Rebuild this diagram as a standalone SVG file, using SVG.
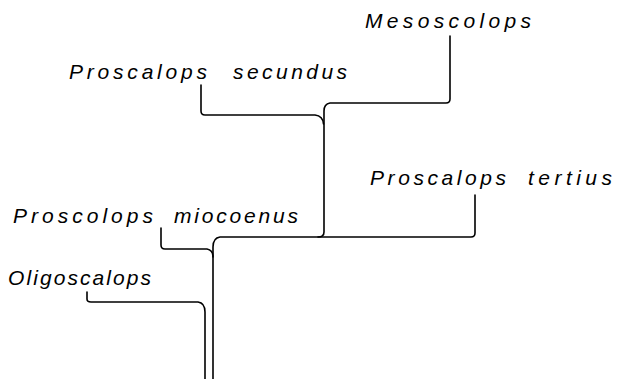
<svg xmlns="http://www.w3.org/2000/svg" width="618" height="379" viewBox="0 0 618 379">
<style>
.lbl{font-family:"Liberation Sans",Arial,sans-serif;font-style:italic;font-size:21px;fill:#000}
.ln{fill:none;stroke:#000;stroke-width:1.6;stroke-linecap:round;stroke-linejoin:round}
</style>
<rect width="618" height="379" fill="#fff"/>
<g id="connectors">
<path class="ln" d="M450,36 V99 Q450,103 446,103 H330 Q324,104 324,111 V232 Q324,237 318,237"/>
<path class="ln" d="M201,85 V111 Q201,115 205,115 H315 Q323,116 323.5,124"/>
<path class="ln" d="M475,195 V233 Q475,237 471,237 H220 Q213,238 213,247 V379"/>
<path class="ln" d="M161,228 V245 Q161,249 165,249 H207 Q213,250 213,257"/>
<path class="ln" d="M87,292 V299 Q87,302 91,302 H198 Q205,303 205,312 V379"/>
</g>
<g id="mesoscolops"><text class="lbl" x="365" y="28" textLength="166" lengthAdjust="spacing">Mesoscolops</text></g>
<g id="proscalops-secundus"><text class="lbl" y="79"><tspan x="69" textLength="138" lengthAdjust="spacing">Proscalops</tspan><tspan x="233" textLength="114" lengthAdjust="spacing">secundus</tspan></text></g>
<g id="proscalops-tertius"><text class="lbl" y="185"><tspan x="370" textLength="136" lengthAdjust="spacing">Proscalops</tspan><tspan x="528" textLength="84" lengthAdjust="spacing">tertius</tspan></text></g>
<g id="proscolops-miocoenus"><text class="lbl" y="223"><tspan x="13" textLength="140" lengthAdjust="spacing">Proscolops</tspan><tspan x="174" textLength="124" lengthAdjust="spacing">miocoenus</tspan></text></g>
<g id="oligoscalops"><text class="lbl" x="8" y="285" textLength="143" lengthAdjust="spacing">Oligoscalops</text></g>
</svg>
